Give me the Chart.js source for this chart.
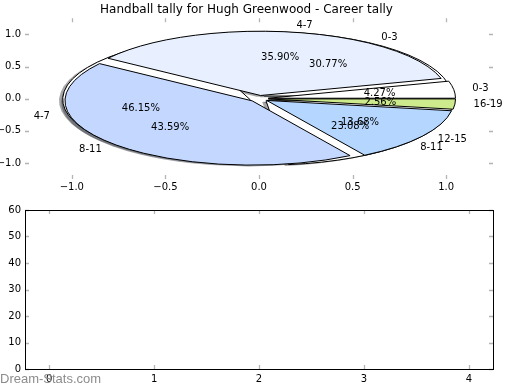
<!DOCTYPE html>
<html>
<head>
<meta charset="utf-8">
<script src="https://cdn.jsdelivr.net/npm/chart.js@4.4.1/dist/chart.umd.min.js"></script>
<style>
  body { margin: 0; background: #fff; }
  #wrap { position: relative; width: 520px; height: 390px; }
  canvas { position: absolute; left: 0; }
</style>
</head>
<body>
<div id="wrap">
  <canvas id="pie" width="520" height="195" style="top:0"></canvas>
  <canvas id="empty" width="520" height="195" style="top:195px"></canvas>
</div>
<script>
// outer pie (drawn first, white)
const pie1Labels = ['0-3', '4-7', '8-11'];
const pie1Counts = [36, 54, 27];
const pie1Colors = ['#ffffff', '#ffffff', '#ffffff'];

// inner pie (drawn on top)
const pie2Labels = ['0-3', '4-7', '8-11', '12-15', '16-19'];
const pie2Counts = [5, 42, 51, 16, 3];
const pie2Colors = ['#ffffff', '#e8f0ff', '#c4d8ff', '#b4d6ff', '#cdea8c'];

const pieTicks = [-1.0, -0.5, 0.0, 0.5, 1.0];
const barXTicks = [0, 1, 2, 3, 4];
const barYTicks = [0, 10, 20, 30, 40, 50, 60];

const titleText = 'Handball tally for Hugh Greenwood - Career tally';
const FONT = 'DejaVu Sans';
const EXPLODE = 0.05;
const TICK_GREY = '#b4b4b4';

function fmtTick(v) {
  return (v < 0 ? '\u2212' : '') + Math.abs(v).toFixed(1);
}

function wedges(counts) {
  const total = counts.reduce((a, b) => a + b, 0);
  let t = 0;
  return counts.map(c => {
    const t0 = t;
    t += c / total * Math.PI * 2;
    const mid = (t0 + t) / 2;
    return {
      t0: t0, t1: t, mid: mid,
      pct: (c / total * 100).toFixed(2) + '%',
      ox: EXPLODE * Math.cos(mid), oy: EXPLODE * Math.sin(mid)
    };
  });
}

function wedgePath(ctx, xs, ys, w, dx, dy) {
  const cx = xs.getPixelForValue(w.ox + dx);
  const cy = ys.getPixelForValue(w.oy + dy);
  const rx = xs.getPixelForValue(1) - xs.getPixelForValue(0);
  const ry = ys.getPixelForValue(0) - ys.getPixelForValue(1);
  ctx.beginPath();
  ctx.moveTo(cx, cy);
  ctx.ellipse(cx, cy, rx, ry, 0, -w.t0, -w.t1, true);
  ctx.closePath();
}

function shade(hex) {
  const n = parseInt(hex.slice(1), 16);
  const r = Math.round(((n >> 16) & 255) * 0.3);
  const g = Math.round(((n >> 8) & 255) * 0.3);
  const b = Math.round((n & 255) * 0.3);
  return 'rgba(' + r + ',' + g + ',' + b + ',0.5)';
}

// inward grey tick marks on all four sides
function innerTicks(chart, len) {
  const ctx = chart.ctx;
  const a = chart.chartArea;
  const xs = chart.scales.x, ys = chart.scales.y;
  ctx.save();
  ctx.strokeStyle = TICK_GREY;
  ctx.lineWidth = 1.3;
  ctx.beginPath();
  xs.ticks.forEach(t => {
    const x = Math.round(xs.getPixelForValue(t.value)) + 0.5;
    ctx.moveTo(x, a.top); ctx.lineTo(x, a.top + len);
    ctx.moveTo(x, a.bottom); ctx.lineTo(x, a.bottom - len);
  });
  ys.ticks.forEach(t => {
    const y = Math.round(ys.getPixelForValue(t.value)) + 0.5;
    ctx.moveTo(a.left, y); ctx.lineTo(a.left + len, y);
    ctx.moveTo(a.right, y); ctx.lineTo(a.right - len, y);
  });
  ctx.stroke();
  ctx.restore();
}

const piePlugin = {
  id: 'pies',
  afterDatasetsDraw(chart) {
    const ctx = chart.ctx;
    const xs = chart.scales.x, ys = chart.scales.y;
    const w1 = wedges(pie1Counts), w2 = wedges(pie2Counts);
    innerTicks(chart, 4);
    ctx.save();
    // shadows sit below every wedge
    w1.forEach((w, i) => { wedgePath(ctx, xs, ys, w, -0.02, -0.02); ctx.fillStyle = shade(pie1Colors[i]); ctx.fill(); });
    w2.forEach((w, i) => { wedgePath(ctx, xs, ys, w, -0.02, -0.02); ctx.fillStyle = shade(pie2Colors[i]); ctx.fill(); });
    ctx.lineWidth = 1;
    ctx.strokeStyle = '#000';
    ctx.lineJoin = 'miter';
    w1.forEach((w, i) => { wedgePath(ctx, xs, ys, w, 0, 0); ctx.fillStyle = pie1Colors[i]; ctx.fill(); ctx.stroke(); });
    w2.forEach((w, i) => { wedgePath(ctx, xs, ys, w, 0, 0); ctx.fillStyle = pie2Colors[i]; ctx.fill(); ctx.stroke(); });
    // labels and percentages
    ctx.fillStyle = '#000';
    ctx.font = '10px "' + FONT + '"';
    ctx.textBaseline = 'middle';
    const texts = (ws, labels) => ws.forEach((w, i) => {
      const lx = w.ox + 1.1 * Math.cos(w.mid), ly = w.oy + 1.1 * Math.sin(w.mid);
      ctx.textAlign = lx > 0 ? 'left' : 'right';
      ctx.fillText(labels[i], xs.getPixelForValue(lx), ys.getPixelForValue(ly));
      const px = w.ox + 0.6 * Math.cos(w.mid), py = w.oy + 0.6 * Math.sin(w.mid);
      ctx.textAlign = 'center';
      ctx.fillText(w.pct, xs.getPixelForValue(px), ys.getPixelForValue(py));
    });
    texts(w1, pie1Labels);
    texts(w2, pie2Labels);
    ctx.restore();
  }
};

const framePlugin = {
  id: 'frame',
  afterDraw(chart) {
    const ctx = chart.ctx;
    const a = chart.chartArea;
    innerTicks(chart, 4);
    ctx.save();
    ctx.strokeStyle = '#000';
    ctx.lineWidth = 1;
    ctx.strokeRect(Math.round(a.left) + 0.5, Math.round(a.top) + 0.5,
      Math.round(a.right - a.left), Math.round(a.bottom - a.top));
    ctx.fillStyle = '#8c8c8c';
    ctx.font = '13px "Liberation Sans"';
    ctx.textAlign = 'left';
    ctx.textBaseline = 'alphabetic';
    ctx.fillText('Dream-Stats.com', 0, 188);
    ctx.restore();
  }
};

const tickFont = { family: FONT, size: 10 };

new Chart(document.getElementById('pie'), {
  type: 'scatter',
  data: { datasets: [{ data: [] }] },
  options: {
    responsive: false,
    animation: false,
    devicePixelRatio: 1,
    layout: { padding: { left: 0, right: 27, top: 0, bottom: 0 } },
    plugins: {
      legend: { display: false },
      tooltip: { enabled: false },
      title: {
        display: true,
        text: titleText,
        color: '#000',
        font: { family: FONT, size: 12, weight: 'normal', lineHeight: 1 },
        padding: { top: 4, bottom: 2.3 }
      }
    },
    scales: {
      x: {
        min: -1.25, max: 1.25,
        afterBuildTicks: s => { s.ticks = pieTicks.map(v => ({ value: v })); },
        afterFit: s => { s.height = 16; },
        grid: { display: false, drawTicks: false },
        border: { display: false },
        ticks: { font: tickFont, color: '#000', padding: 2, maxRotation: 0, callback: fmtTick }
      },
      y: {
        min: -1.25, max: 1.25,
        afterBuildTicks: s => { s.ticks = pieTicks.map(v => ({ value: v })); },
        afterFit: s => { s.width = 25; },
        grid: { display: false, drawTicks: false },
        border: { display: false },
        ticks: { font: tickFont, color: '#000', padding: 4, callback: fmtTick }
      }
    }
  },
  plugins: [piePlugin]
});

new Chart(document.getElementById('empty'), {
  type: 'scatter',
  data: { datasets: [{ data: [] }] },
  options: {
    responsive: false,
    animation: false,
    devicePixelRatio: 1,
    layout: { padding: { left: 0, right: 27, top: 15, bottom: 0 } },
    plugins: { legend: { display: false }, tooltip: { enabled: false } },
    scales: {
      x: {
        min: -0.23, max: 4.23,
        afterBuildTicks: s => { s.ticks = barXTicks.map(v => ({ value: v })); },
        afterFit: s => { s.height = 21; },
        grid: { display: false, drawTicks: false },
        border: { display: false },
        ticks: { font: tickFont, color: '#000', padding: 4, maxRotation: 0, callback: v => String(v) }
      },
      y: {
        min: 0, max: 60,
        afterBuildTicks: s => { s.ticks = barYTicks.map(v => ({ value: v })); },
        afterFit: s => { s.width = 25; },
        grid: { display: false, drawTicks: false },
        border: { display: false },
        ticks: { font: tickFont, color: '#000', padding: 4, callback: v => String(v) }
      }
    }
  },
  plugins: [framePlugin]
});
</script>
</body>
</html>
